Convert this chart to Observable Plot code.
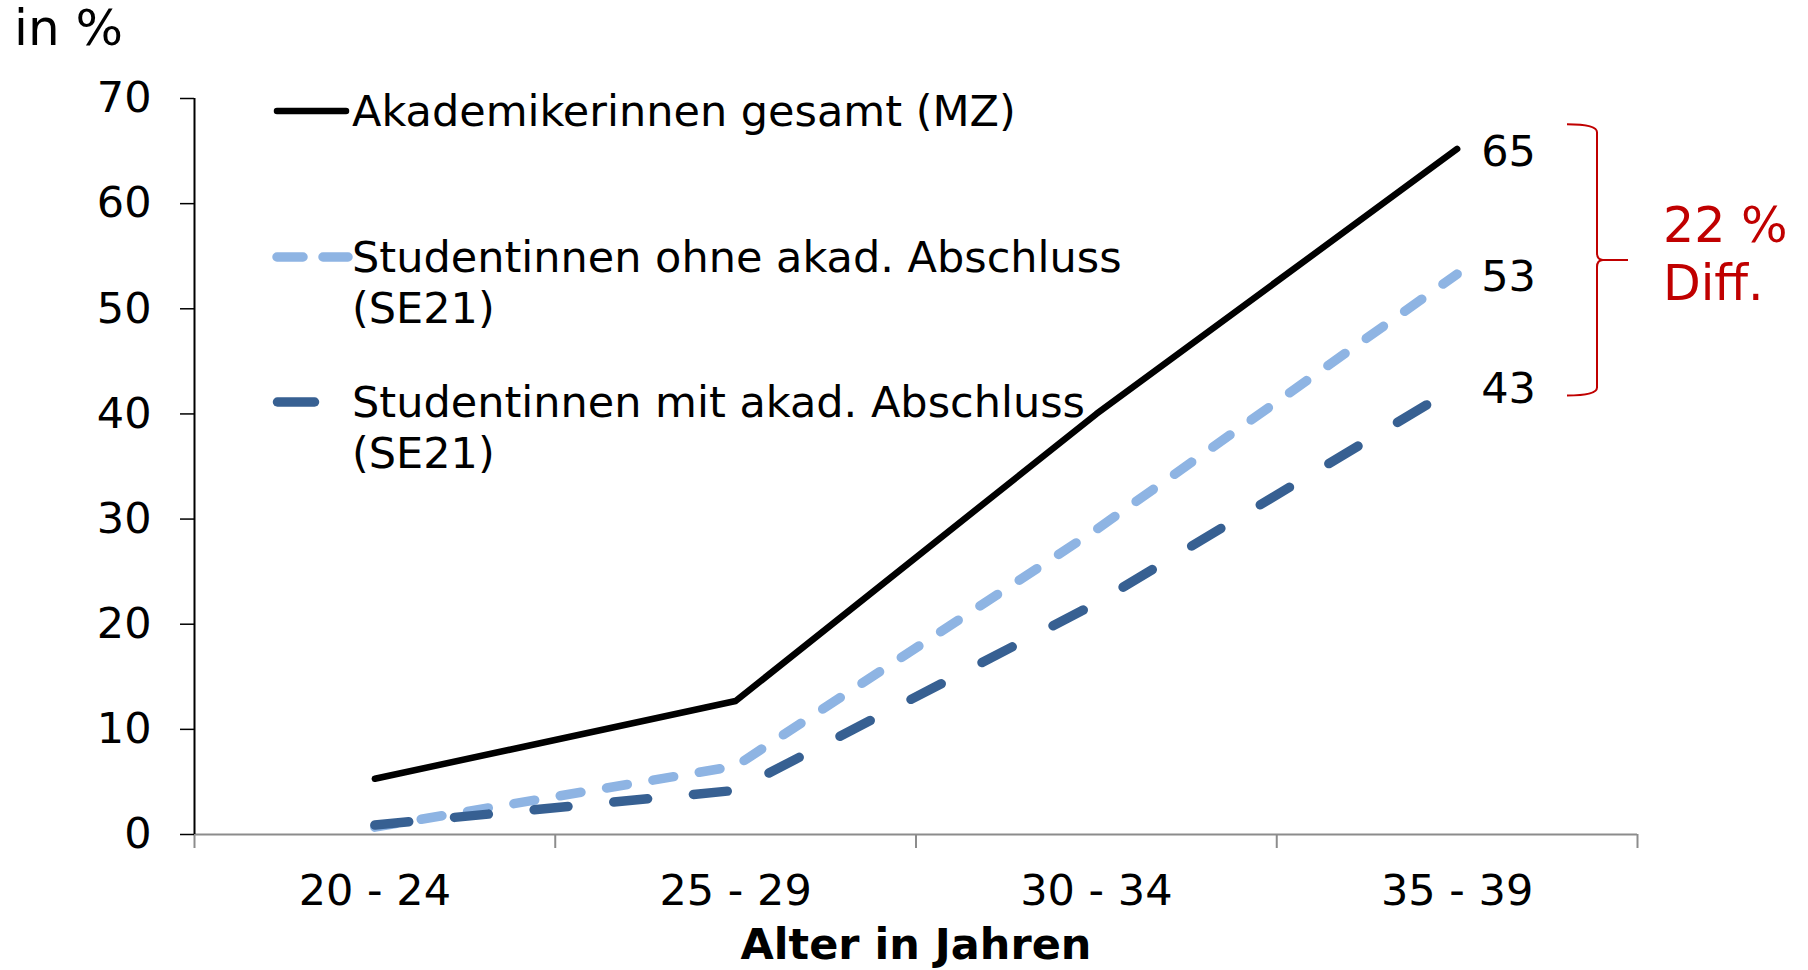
<!DOCTYPE html>
<html><head><meta charset="utf-8">
<script src="https://cdn.jsdelivr.net/npm/d3@7"></script>
<script src="https://cdn.jsdelivr.net/npm/@observablehq/plot@0.6"></script>
<style>body{margin:0;background:#fff;} svg{display:block;}</style>
</head><body><div id="chart"></div>
<script>
const categories = ["20 - 24", "25 - 29", "30 - 34", "35 - 39"];
const akademikerinnen = [5.3, 12.7, 40, 65.2];
const ohneAbschluss = [0.7, 6.5, 29, 53.3];
const mitAbschluss = [0.9, 4.2, 22, 42.6];
const yTicks = [0, 10, 20, 30, 40, 50, 60, 70];
const legendLines = [["Akademikerinnen gesamt (MZ)"], ["Studentinnen ohne akad. Abschluss", "(SE21)"], ["Studentinnen mit akad. Abschluss", "(SE21)"]];
const diffLabel = ["22 %", "Diff."];
const yUnit = "in %";
const xTitle = "Alter in Jahren";

const colors = {A: "#000000", O: "#8EB4E3", M: "#376092"};
const toRows = (vals, s) => vals.map((v, i) => ({i: i + 0.5, cat: categories[i], v, s}));
const rowsA = toRows(akademikerinnen, "A"), rowsO = toRows(ohneAbschluss, "O"), rowsM = toRows(mitAbschluss, "M");
const lastRows = [rowsA[3], rowsO[3], rowsM[3]];
const FONT = "DejaVu Sans, Verdana, sans-serif";

const plot = Plot.plot({
  width: 1808, height: 970,
  marginLeft: 194, marginRight: 171, marginTop: 98, marginBottom: 136,
  style: {fontFamily: FONT, fontSize: "43px", background: "#fff", color: "#000"},
  x: {type: "linear", domain: [0, 4]},
  y: {domain: [0, 70]},
  marks: [
    Plot.axisX({ticks: [0, 1, 2, 3, 4], tickFormat: () => "", tickSize: 14, stroke: "#8c8c8c", strokeWidth: 2, strokeOpacity: 1, label: null}),
    Plot.axisX({ticks: [0.5, 1.5, 2.5, 3.5], tickFormat: d => categories[Math.floor(d)], tickSize: 0, tickPadding: 40, label: null, fontSize: 43, fill: "#000"}),
    Plot.ruleY([0], {stroke: "#8c8c8c", strokeWidth: 2}),
    Plot.axisY({ticks: yTicks, tickSize: 14, tickPadding: 29, label: null, fontSize: 43, strokeWidth: 1.5, strokeOpacity: 1, fill: "#000"}),
    Plot.ruleX([0], {stroke: "#000", strokeWidth: 2}),
    Plot.line(rowsO, {x: "i", y: "v", stroke: colors.O, strokeWidth: 9.5, strokeDasharray: "21,26", strokeLinecap: "round", strokeLinejoin: "round"}),
    Plot.line(rowsM, {x: "i", y: "v", stroke: colors.M, strokeWidth: 9.5, strokeDasharray: "34,46", strokeLinecap: "round", strokeLinejoin: "round"}),
    Plot.line(rowsA, {x: "i", y: "v", stroke: colors.A, strokeWidth: 6.5, strokeLinecap: "round", strokeLinejoin: "round"}),
    Plot.text(lastRows, {x: "i", y: "v", text: d => d3.format(".0f")(d.v), textAnchor: "start", dx: 24, dy: 3, lineAnchor: "middle", fill: "#000", fontSize: 43}),
    Plot.text([xTitle], {frameAnchor: "bottom", dy: 111, fontWeight: "bold", lineAnchor: "middle", fontSize: 43, fill: "#000"})
  ]
});
document.getElementById("chart").appendChild(plot);

const svg = d3.select(plot);
const ys = plot.scale("y");
const g = svg.append("g").attr("font-family", FONT).attr("font-size", 43).attr("text-anchor", "start");

// unit label
g.append("text").attr("x", 14).attr("y", 45).attr("font-size", 50).attr("text-anchor", "start").text(yUnit);

// legend
g.append("line").attr("x1", 277).attr("x2", 346).attr("y1", 111).attr("y2", 111)
  .attr("stroke", colors.A).attr("stroke-width", 6.5).attr("stroke-linecap", "round");
g.append("line").attr("x1", 277).attr("x2", 348).attr("y1", 257).attr("y2", 257)
  .attr("stroke", colors.O).attr("stroke-width", 9.5).attr("stroke-linecap", "round").attr("stroke-dasharray", "26,20");
g.append("line").attr("x1", 277.5).attr("x2", 314.5).attr("y1", 402).attr("y2", 402)
  .attr("stroke", colors.M).attr("stroke-width", 9.5).attr("stroke-linecap", "round");
const legendBase = [126, 272, 417];
legendLines.forEach((lines, k) => {
  lines.forEach((t, j) => {
    g.append("text").attr("x", 352).attr("y", legendBase[k] + j * 51).attr("text-anchor", "start").text(t);
  });
});

// bracket
const yTop = ys.apply(67.5), yBot = ys.apply(41.7), yMid = ys.apply(54.6);
const bx = 1597;
const p = d3.path();
p.moveTo(bx - 30, yTop);
p.quadraticCurveTo(bx, yTop, bx, yTop + 8);
p.lineTo(bx, yMid - 7);
p.quadraticCurveTo(bx, yMid, bx + 6, yMid);
p.lineTo(bx + 31, yMid);
p.moveTo(bx + 6, yMid);
p.quadraticCurveTo(bx, yMid, bx, yMid + 7);
p.lineTo(bx, yBot - 8);
p.quadraticCurveTo(bx, yBot, bx - 30, yBot);
g.append("path").attr("d", p.toString()).attr("fill", "none").attr("stroke", "#C00000").attr("stroke-width", 2);
diffLabel.forEach((t, j) => {
  g.append("text").attr("x", 1663).attr("y", 242 + j * 58).attr("font-size", 49).attr("fill", "#C00000").attr("text-anchor", "start").text(t);
});
</script>
</body></html>
